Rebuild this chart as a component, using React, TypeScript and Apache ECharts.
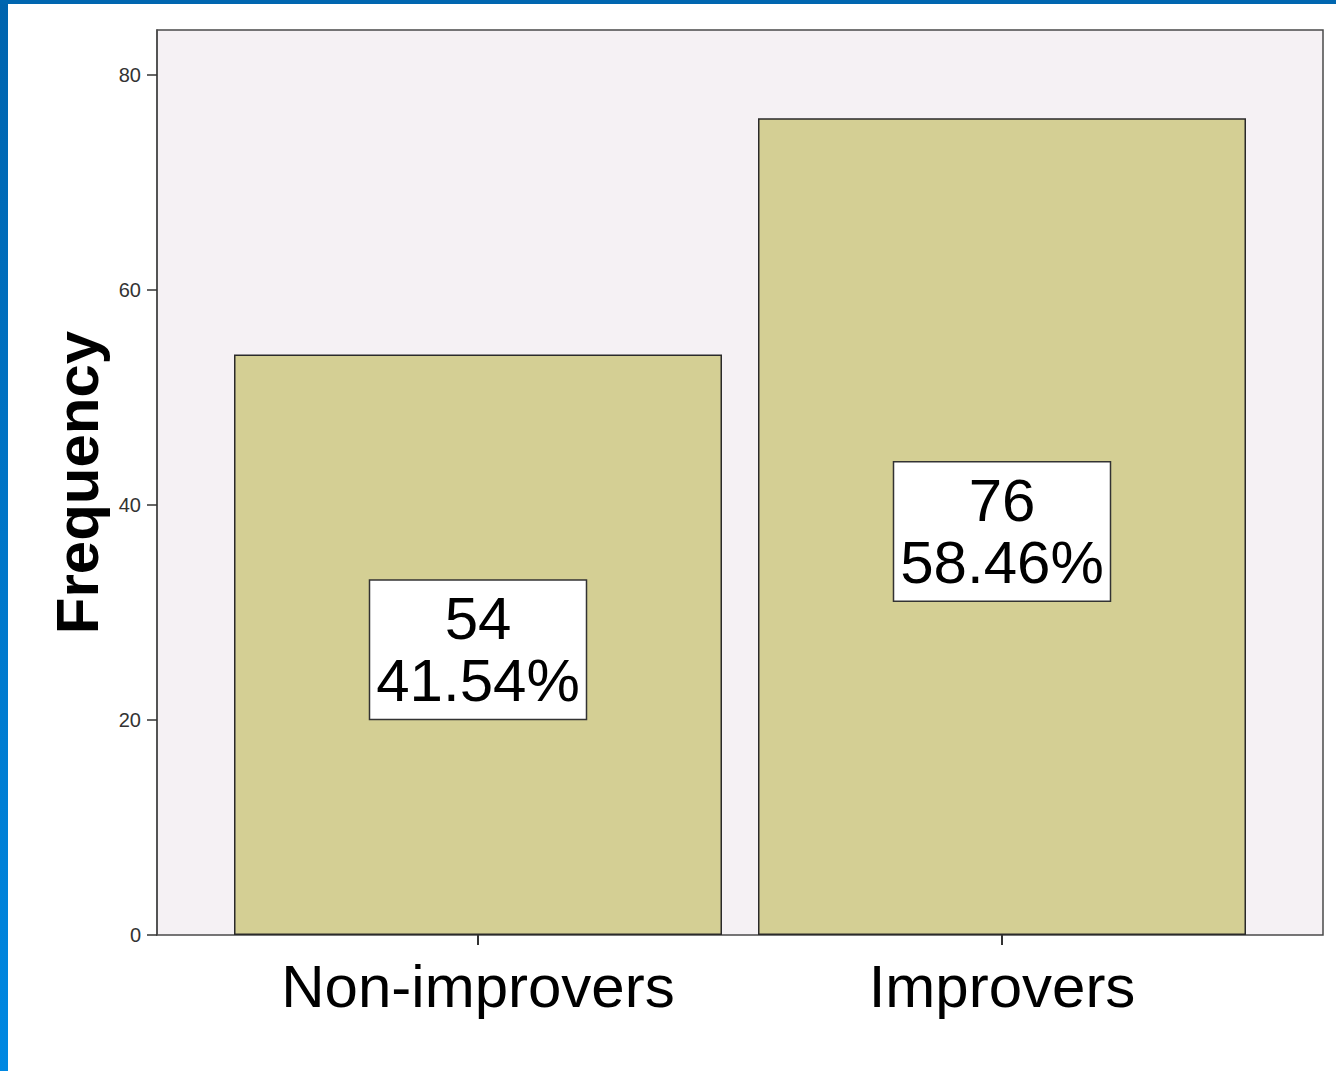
import React, { useEffect, useRef } from "react";
import * as echarts from "echarts";

const categories = ["Non-improvers", "Improvers"];
const counts = [54, 76];
const yTicks = [0, 20, 40, 60, 80];
const total = counts.reduce((a, b) => a + b, 0);

export default function App() {
  const ref = useRef<HTMLDivElement>(null);
  useEffect(() => {
    document.body.style.margin = "0";
    const chart = echarts.init(ref.current!, null, { renderer: "svg" });
    const font = "'Liberation Sans', Arial, sans-serif";
    chart.setOption({
      animation: false,
      backgroundColor: "#ffffff",
      textStyle: { fontFamily: font },
      graphic: [
        {
          type: "rect",
          shape: { x: 0, y: 0, width: 8, height: 1071 },
          style: {
            fill: new echarts.graphic.LinearGradient(0, 0, 0, 1, [
              { offset: 0, color: "#0064AE" },
              { offset: 1, color: "#0088E2" },
            ]),
          },
          z: 100,
        },
        {
          type: "rect",
          shape: { x: 0, y: 0, width: 1336, height: 4 },
          style: { fill: "#0066B0" },
          z: 100,
        },
      ],
      grid: [
        {
          left: 157,
          top: 30,
          width: 1166,
          height: 905,
          show: true,
          backgroundColor: "#F5F1F4",
          borderColor: "#4a4a4a",
          borderWidth: 1.5,
        },
        { left: 216, top: 30, width: 1048, height: 905 },
      ],
      xAxis: [
        { gridIndex: 0, type: "value", show: false, min: 0, max: 1 },
        {
          gridIndex: 1,
          type: "category",
          data: categories,
          axisLine: { show: false },
          axisTick: {
            show: true,
            alignWithLabel: true,
            length: 10,
            lineStyle: { color: "#333", width: 2 },
          },
          axisLabel: {
            fontSize: 60,
            color: "#000",
            margin: 21,
            fontFamily: font,
          },
        },
      ],
      yAxis: [
        {
          gridIndex: 0,
          type: "value",
          min: 0,
          max: 84.2,
          name: "Frequency",
          nameLocation: "middle",
          nameGap: 40,
          nameTextStyle: {
            fontSize: 60,
            fontWeight: "bold",
            color: "#000",
            fontFamily: font,
          },
          axisLine: { show: true, lineStyle: { color: "#4a4a4a", width: 1.5 } },
          axisTick: {
            show: true,
            length: 10,
            customValues: yTicks,
            lineStyle: { color: "#333", width: 1.5 },
          },
          axisLabel: {
            fontSize: 20,
            color: "#333",
            margin: 16,
            fontFamily: font,
            customValues: yTicks,
          },
          splitLine: { show: false },
        },
        { gridIndex: 1, type: "value", min: 0, max: 84.2, show: false },
      ],
      series: [
        {
          type: "bar",
          xAxisIndex: 1,
          yAxisIndex: 1,
          data: counts,
          barWidth: 488,
          itemStyle: {
            color: "#D4CF94",
            borderColor: "#2a2a2a",
            borderWidth: 1.5,
          },
          label: {
            show: true,
            position: "inside",
            offset: [0, 5],
            formatter: (p: any) =>
              `${p.value}\n${((p.value / total) * 100).toFixed(2)}%`,
            fontSize: 60,
            lineHeight: 62,
            color: "#000",
            fontFamily: font,
            backgroundColor: "#ffffff",
            borderColor: "#333",
            borderWidth: 1.5,
            padding: [7, 6, 7, 6],
            align: "center",
          },
        },
      ],
    });
    return () => chart.dispose();
  }, []);
  return (
    <div
      ref={ref}
      style={{ position: "absolute", left: 0, top: 0, width: 1336, height: 1071 }}
    />
  );
}
